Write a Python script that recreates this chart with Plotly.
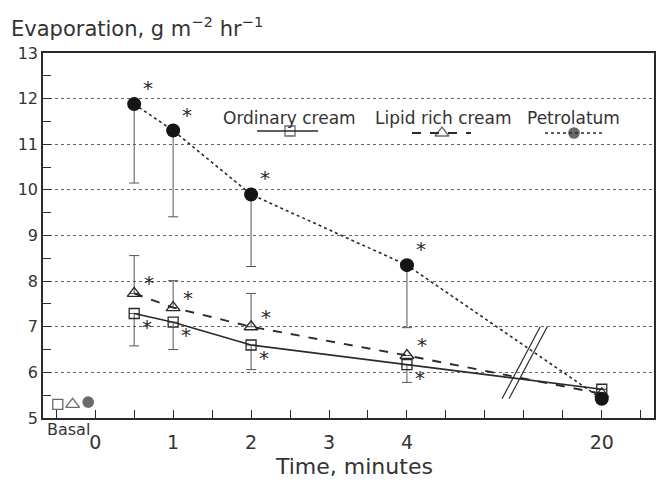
import plotly.graph_objects as go

# ---- data ----
x_labels = ["0", "1", "2", "3", "4", "20"]
x_label_pos = [0, 1, 2, 3, 4, 6.5]
time_pos = [0.5, 1, 2, 4, 6.5]          # plotted positions (20 min drawn after the axis break)

ordinary = [7.29, 7.10, 6.60, 6.17, 5.63]
ordinary_err_low = [6.58, 6.50, 6.06, 5.78, None]
lipid = [7.73, 7.42, 7.00, 6.37, 5.53]
lipid_err_high = [8.56, 8.01, 7.73, None, None]
petro = [11.88, 11.30, 9.90, 8.35, 5.42]
petro_err_low = [10.15, 9.41, 8.32, 6.98, None]

basal_pos = [-0.48, -0.29, -0.09]
basal_vals = [5.30, 5.30, 5.35]

star_pos = [0.5, 1, 2, 4]

INK = "#2a2a2a"
TXT = "#333333"
FONT = "DejaVu Sans"


def err(vals, ends):
    return [0 if e is None else abs(e - v) for v, e in zip(vals, ends)]


fig = go.Figure()

# Ordinary cream
fig.add_trace(go.Scatter(
    x=time_pos, y=ordinary, mode="lines+markers",
    line=dict(color=INK, width=1.6, dash="solid"),
    marker=dict(symbol="square-open", size=10, color=INK, line=dict(width=1.3)),
    error_y=dict(type="data", symmetric=False, array=[0] * 5,
                 arrayminus=err(ordinary, ordinary_err_low),
                 color="#555", thickness=1, width=5),
    showlegend=False))
# Lipid rich cream
fig.add_trace(go.Scatter(
    x=time_pos, y=lipid, mode="lines+markers",
    line=dict(color=INK, width=1.9, dash="dash"),
    marker=dict(symbol="triangle-up-open", size=12, color=INK, line=dict(width=1.3)),
    error_y=dict(type="data", symmetric=False, array=err(lipid, lipid_err_high),
                 arrayminus=[0] * 5, color="#555", thickness=1, width=5),
    showlegend=False))
# Petrolatum
fig.add_trace(go.Scatter(
    x=time_pos, y=petro, mode="lines+markers",
    line=dict(color=INK, width=1.6, dash="dot"),
    marker=dict(symbol="circle", size=14, color="#151515"),
    error_y=dict(type="data", symmetric=False, array=[0] * 5,
                 arrayminus=err(petro, petro_err_low),
                 color="#555", thickness=1, width=5),
    showlegend=False))

# Basal markers
fig.add_trace(go.Scatter(
    x=basal_pos, y=basal_vals, mode="markers",
    marker=dict(symbol=["square-open", "triangle-up-open", "circle"],
                size=[10, 12, 13], color=INK, line=dict(width=1.3)),
    showlegend=False))

# significance stars next to each marker
star_font = dict(family=FONT, size=20, color=INK)
for i, xp in enumerate(star_pos):
    fig.add_annotation(x=xp, y=petro[i], text="*", showarrow=False, xshift=14, yshift=16, font=star_font)
    fig.add_annotation(x=xp, y=lipid[i], text="*", showarrow=False, xshift=15, yshift=10, font=star_font)
    fig.add_annotation(x=xp, y=ordinary[i], text="*", showarrow=False, xshift=13, yshift=-13, font=star_font)

# axis break marks
for dx in (0, 0.09):
    fig.add_shape(type="line", x0=5.22 + dx, y0=5.42, x1=5.71 + dx, y1=7.0,
                  line=dict(color=INK, width=1.2), layer="above")

# title, basal label, x title
fig.add_annotation(text="Evaporation, g m<sup>−2</sup> hr<sup>−1</sup>", xref="paper", yref="paper",
                   x=-0.055, y=1.0, yshift=10, xanchor="left", yanchor="bottom", showarrow=False,
                   font=dict(family=FONT, size=21, color=TXT))
fig.add_annotation(text="Basal", x=-0.5, y=5, xanchor="left", xshift=-11, yshift=-11,
                   showarrow=False, font=dict(family=FONT, size=16, color=TXT))
fig.add_annotation(text="Time, minutes", xref="paper", yref="paper", x=0.509, y=0,
                   yshift=-48, yanchor="middle", showarrow=False,
                   font=dict(family=FONT, size=22, color=TXT))

# custom legend: text above each line sample
leg_text = [("Ordinary cream", 0.404), ("Lipid rich cream", 0.656), ("Petrolatum", 0.869)]
for t, xp in leg_text:
    fig.add_annotation(text=t, xref="paper", yref="paper", x=xp, y=0.822, showarrow=False,
                       xanchor="center", yanchor="middle",
                       font=dict(family=FONT, size=17, color=TXT))

fig.add_trace(go.Scatter(x=[257, 318], y=[131, 131], xaxis="x2", yaxis="y2", mode="lines",
                         line=dict(color=INK, width=1.6), showlegend=False, hoverinfo="skip"))
fig.add_trace(go.Scatter(x=[412, 471], y=[133, 133], xaxis="x2", yaxis="y2", mode="lines",
                         line=dict(color=INK, width=1.9, dash="dash"), showlegend=False, hoverinfo="skip"))
fig.add_trace(go.Scatter(x=[545, 602], y=[133, 133], xaxis="x2", yaxis="y2", mode="lines",
                         line=dict(color=INK, width=1.6, dash="dot"), showlegend=False, hoverinfo="skip"))
fig.add_trace(go.Scatter(x=[290, 442, 574], y=[131, 133, 133], xaxis="x2", yaxis="y2", mode="markers",
                         marker=dict(symbol=["square-open", "triangle-up-open", "circle"],
                                     size=[10, 12, 13], color=INK, line=dict(width=1.3)),
                         showlegend=False, hoverinfo="skip"))

fig.update_layout(
    width=656, height=488,
    margin=dict(l=43, r=2, t=53, b=70, autoexpand=False),
    paper_bgcolor="white", plot_bgcolor="white",
    font=dict(family=FONT, color=TXT),
    xaxis=dict(range=[-0.67, 7.17], tickmode="array", tickvals=x_label_pos, ticktext=x_labels,
               ticks="inside", ticklen=8, tickcolor=INK, showgrid=False, zeroline=False,
               showline=True, linecolor=INK, linewidth=1.5, mirror=True, automargin=False,
               ticklabelstandoff=6,
               tickfont=dict(size=19, family=FONT, color=TXT),
               minor=dict(tickmode="array",
                          tickvals=[-0.5, 0.5, 1.5, 2.5, 3.5, 4.5, 5, 5.5, 6, 7],
                          ticks="inside", ticklen=8, tickcolor=INK, showgrid=False)),
    yaxis=dict(range=[5, 13], tickmode="linear", tick0=5, dtick=1,
               ticks="inside", ticklen=8, tickcolor=INK,
               showgrid=True, gridcolor="#666", griddash="dot", gridwidth=1, zeroline=False,
               showline=True, linecolor=INK, linewidth=1.5, mirror=True, automargin=False,
               tickfont=dict(size=16, family=FONT, color=TXT),
               minor=dict(dtick=0.5, ticks="inside", ticklen=8, tickcolor=INK, showgrid=False)),
    xaxis2=dict(range=[43, 654], overlaying="x", visible=False, fixedrange=True),
    yaxis2=dict(range=[418, 53], overlaying="y", visible=False, fixedrange=True),
)

fig.write_html("out.html", config={"displayModeBar": False},
               post_script="document.body.style.margin='0';")
